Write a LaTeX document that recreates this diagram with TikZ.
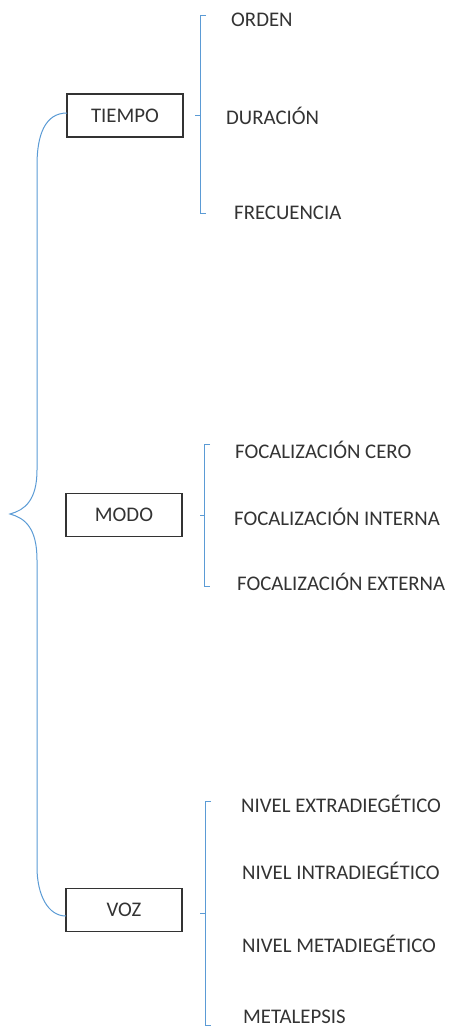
\documentclass[tikz,border=0pt]{standalone}
\usepackage{fontspec}
\setmainfont{Carlito}
\begin{document}
\begin{tikzpicture}[x=1pt,y=-1pt,
  box/.style={draw=black!80,line width=1.1pt,minimum width=116pt,minimum height=43pt,inner sep=0pt,font=\fontsize{20.8}{24}\selectfont,text=black!80},
  item/.style={anchor=west,inner sep=0pt,font=\fontsize{20.8}{24}\selectfont,text=black!80},
  br/.style={draw=blue1,line width=1pt}]
\definecolor{blue1}{HTML}{5B9BD5}
\useasboundingbox (0,0) rectangle (450,1028);
\node[box] (tiempo) at (125,115.5) {TIEMPO};
\node[box] (modo) at (124,515) {MODO};
\node[box] (voz) at (124,910) {VOZ};
% big brace
\coordinate (tip) at (10,514);
\draw[br] (67,113) .. controls (45,113) and (37,135) .. (37,165) -- (37,470) .. controls (37,500) and (25,510) .. (tip)
          .. controls (25,518) and (37,528) .. (37,560) -- (37,867) .. controls (37,895) and (48,916) .. (66,916);
% TIEMPO bracket
\draw[br] (206,15) -- (200,15) -- (200,213) -- (206,213);
\draw[br] (195,115) -- (200,115);
\node[item] (orden) at (231,20) {ORDEN};
\node[item] (dur) at (226,116) {DURACIÓN};
\node[item] (frec) at (234,213) {FRECUENCIA};
% MODO bracket
\draw[br] (210,444) -- (204,444) -- (204,586) -- (210,586);
\draw[br] (200,515) -- (204,515);
\node[item] (f1) at (235,450) {FOCALIZACIÓN CERO};
\node[item] (f2) at (234,517) {FOCALIZACIÓN INTERNA};
\node[item] (f3) at (237,582) {FOCALIZACIÓN EXTERNA};
% VOZ bracket
\draw[br] (211,801) -- (205,801) -- (205,1025) -- (211,1025);
\draw[br] (200,913) -- (205,913);
\node[item] (n1) at (241,804) {NIVEL EXTRADIEGÉTICO};
\node[item] (n2) at (242,871) {NIVEL INTRADIEGÉTICO};
\node[item] (n3) at (242,944) {NIVEL METADIEGÉTICO};
\node[item] (n4) at (243,1017) {METALEPSIS};
\end{tikzpicture}
\end{document}
